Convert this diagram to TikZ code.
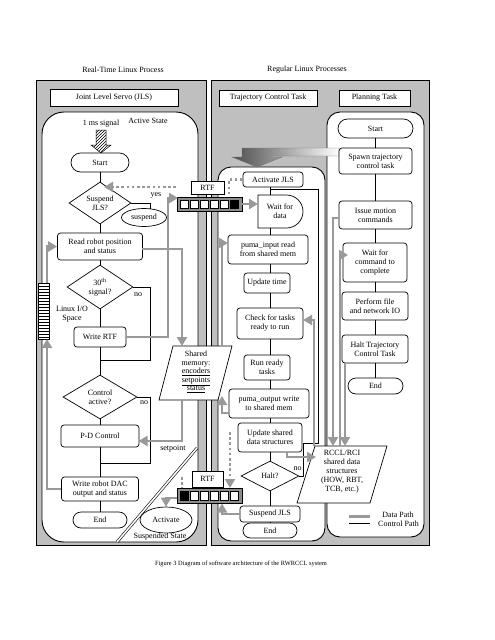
\documentclass[tikz,border=0pt]{standalone}
\usepackage{fontspec}
\setmainfont{Liberation Serif}
\usetikzlibrary{arrows.meta,shapes.geometric,shapes.misc,patterns}
\definecolor{pg}{gray}{0.75}
\definecolor{dg}{gray}{0.60}
\definecolor{qg}{gray}{0.55}
\begin{document}
\begin{tikzpicture}[x=1pt,y=-1pt,
  every node/.style={font=\fontsize{8}{9}\selectfont, inner sep=0pt, align=center},
  box/.style={draw, fill=white, rounded corners=3pt, line width=0.7pt},
  sbox/.style={draw, fill=white, line width=0.7pt},
  term/.style={draw, fill=white, rounded rectangle, line width=0.7pt},
  dia/.style={draw, fill=white, diamond, line width=0.7pt},
  ell/.style={draw, fill=white, ellipse, line width=0.7pt},
  ctl/.style={line width=0.7pt},
  dat/.style={draw=dg, line width=2.8pt, -{Triangle[length=9pt,width=10pt]}},
  datn/.style={draw=dg, line width=2.8pt},
  dot/.style={draw=dg, line width=2.6pt, dash pattern=on 2.6pt off 2.6pt},
  panel/.style={draw, line width=0.9pt, fill=pg},
  region/.style={draw, line width=0.9pt, fill=white},
  qcell/.style={draw, fill=white, line width=0.5pt},
]
\useasboundingbox (0,0) rectangle (495,640);

% titles
\node (t1) at (123,70) {Real-Time Linux Process};
\node (t2) at (307,70) {Regular Linux Processes};

% panels and regions
\draw[panel] (36,80) rectangle (206,545);
\draw[panel] (211,80) rectangle (429,545);
\draw[region, rounded corners=22pt] (42,112) rectangle (198,542);
\draw[region, rounded corners=13pt] (218,167) rectangle (325,541);
\draw[region, rounded corners=13pt] (327,112) rectangle (424,537);
\draw[double, double distance=1.6pt, line width=0.6pt] (117,542) -- (197,448);

% header boxes
\node[sbox, minimum width=128pt, minimum height=17pt] (jls) at (114,97.5) {Joint Level Servo (JLS)};
\node[sbox, minimum width=98pt, minimum height=16pt] (tct) at (268,98) {Trajectory Control Task};
\node[sbox, minimum width=71pt, minimum height=16pt] (plt) at (374.5,98) {Planning Task};

% labels
\node (ms) at (101,124) {1 ms signal};
\node (as) at (148,121) {Active State};
\node (ss) at (160,537) {Suspended State};
\node (yes) at (156,195) {yes};
\node (no1) at (138,295) {no};
\node (lio) at (72,314.5) {Linux I/O\\Space};
\node (no2) at (144,403) {no};
\node (sp) at (173,449) {setpoint};
\node (no3) at (297.5,469) {no};

% hatched signal arrow
\draw[line width=0.5pt, pattern=north east lines] (96,130) -- (106,130) -- (106,145) -- (111,145) -- (101,153) -- (91,145) -- (96,145) -- cycle;

% left column
\node[term, minimum width=58pt, minimum height=19pt] (st) at (100,162.5) {Start};
\node[dia, minimum width=62pt, minimum height=42pt, shape aspect=1.48] (sus) at (100,203) {Suspend\\JLS?};
\node[ell, minimum width=45pt, minimum height=18pt] (susp) at (144,217.5) {suspend};
\node[box, minimum width=85pt, minimum height=27pt] (rd) at (100,246.5) {Read robot position\\and status};
\node[dia, minimum width=66pt, minimum height=44pt, shape aspect=1.5] (th) at (100,287) {30\textsuperscript{th}\\signal?};
\node[box, minimum width=52pt, minimum height=20pt] (wrtf) at (100,337) {Write RTF};
\node[dia, minimum width=74pt, minimum height=44pt, shape aspect=1.68] (ca) at (100,397) {Control\\active?};
\node[box, minimum width=78pt, minimum height=22pt] (pd) at (100,436) {P-D Control};
\node[box, minimum width=77pt, minimum height=24pt] (dac) at (100,489) {Write robot DAC\\output and status};
\node[term, minimum width=54pt, minimum height=16pt] (end1) at (100,520) {End};
\node[ell, minimum width=52pt, minimum height=26pt] (act) at (166,520) {Activate};

% Linux I/O bar
\draw[fill=white, line width=0.6pt] (38,283) rectangle (49,339);
\foreach \yy in {286,289,...,337} \draw[line width=0.5pt] (38,\yy) -- (49,\yy);
\coordinate (barT) at (47,283);
\coordinate (barB) at (47,339);

% RTF queues
\node[sbox, minimum width=33pt, minimum height=13pt] (rtf1) at (207.5,187.5) {RTF};
\node[draw, fill=qg, line width=0.7pt, minimum width=65pt, minimum height=14pt] (q1) at (209.5,204) {};
\foreach \i in {0,...,4} \draw[qcell] ({180.5+10*\i},200) rectangle ({188.5+10*\i},208.5);
\draw[qcell, fill=black] (230.5,200) rectangle (238.5,208.5);
\node[sbox, minimum width=31pt, minimum height=16pt] (rtf2) at (207.5,479) {RTF};
\node[draw, fill=qg, line width=0.7pt, minimum width=65pt, minimum height=15pt] (q2) at (209.5,495.5) {};
\draw[qcell, fill=black] (180.5,491.5) rectangle (188.5,500);
\foreach \i in {1,...,5} \draw[qcell] ({180.5+10*\i},491.5) rectangle ({188.5+10*\i},500);

% shared memory
\draw[fill=white, line width=0.7pt] (173,346) -- (232,346) -- (218,400) -- (159,400) -- cycle;
\node[font=\fontsize{8}{8.6}\selectfont] (shm) at (196,372) {Shared\\memory:\\\underline{encoders}\\\underline{setpoints}\\\underline{status}};
\coordinate (shmT) at (182,346);
\coordinate (shmB) at (182,400);

% big spawn arrow
\shadedraw[left color=black!70, right color=white, draw=black!55, line width=0.4pt] (339,148) -- (242,148) -- (242,157) -- (232,157) -- (257,167) -- (282,157) -- (272,157) -- (272,156) -- (339,156) -- cycle;

% middle column
\coordinate (mc) at (270,0);
\node[box, minimum width=60pt, minimum height=15pt] (ajls) at (273,179.5) {Activate JLS};
\draw[fill=white, line width=0.7pt] (258,195) -- (286.5,195) .. controls (295.6,195) and (303,202.4) .. (303,211.5) .. controls (303,220.6) and (295.6,228) .. (286.5,228) -- (258,228) -- cycle;
\node (wd) at (280,211.5) {Wait for\\data};
\coordinate (wT) at (270,195);
\coordinate (wB) at (270,228);
\coordinate (wW) at (258,204);
\node[box, minimum width=80pt, minimum height=29pt] (pin) at (268,249.5) {puma\_input read\\from shared mem};
\node[box, minimum width=46pt, minimum height=20pt] (ut) at (267,283) {Update time};
\node[box, minimum width=66pt, minimum height=31pt] (chk) at (270,323.5) {Check for tasks\\ready to run};
\node[box, minimum width=46pt, minimum height=25pt] (run) at (267,367.5) {Run ready\\tasks};
\node[box, minimum width=80pt, minimum height=29pt] (pout) at (269,403.5) {puma\_output write\\to shared mem};
\node[box, minimum width=64pt, minimum height=29pt] (usd) at (270,437.5) {Update shared\\data structures};
\node[dia, minimum width=58pt, minimum height=30pt, shape aspect=1.93] (halt) at (270,476) {Halt?};
\node[box, minimum width=60pt, minimum height=16pt] (sjls) at (270,514) {Suspend JLS};
\node[term, minimum width=54pt, minimum height=15pt] (end2) at (270,530.5) {End};

% planning column
\coordinate (pc) at (375,0);
\node[term, minimum width=75pt, minimum height=19pt] (pst) at (375.5,128.5) {Start};
\node[box, minimum width=73pt, minimum height=26pt] (spn) at (375.5,161) {Spawn trajectory\\control task};
\node[box, minimum width=73pt, minimum height=28pt] (iss) at (375.5,215) {Issue motion\\commands};
\node[box, minimum width=64pt, minimum height=39pt] (wcc) at (375,262.5) {Wait for\\command to\\complete};
\node[box, minimum width=66pt, minimum height=28pt] (pf) at (375,306) {Perform file\\and network IO};
\node[box, minimum width=66pt, minimum height=28pt] (htc) at (375,349) {Halt Trajectory\\Control Task};
\node[term, minimum width=55pt, minimum height=16pt] (pend) at (375.5,386) {End};

% RCCL shared structures
\draw[fill=white, line width=0.7pt] (315,446) -- (387,446) -- (370,503) -- (297,503) -- cycle;
\node (rccl) at (342,472) {RCCL/RCI\\shared data\\structures\\(HOW, RBT,\\TCB, etc.)};

% legend
\draw[datn] (349,516.5) -- (370,516.5);
\draw[ctl] (349,523) -- (370,523);
\node (ldp) at (398,514.5) {Data Path};
\node (lcp) at (398.5,523.5) {Control Path};

% caption
\node[font=\fontsize{6.4}{7}\selectfont] (cap) at (241,564) {Figure 3 Diagram of software architecture of the RWRCCL system};

% ---- control paths (left)
\coordinate (yd) at (150,209);
\coordinate (n1) at (150,360);
\coordinate (j1) at (100,360);
\coordinate (n2) at (150,463);
\coordinate (j2) at (100,463);
\draw[ctl] (st.south) -- (sus.north);
\draw[ctl] (sus.east) -| (yd);
\draw[ctl] (sus.south) -- (rd.north);
\draw[ctl] (rd.south) -- (th.north);
\draw[ctl] (th.south) -- (wrtf.north);
\draw[ctl] (th.east) -| (n1) -- (j1);
\draw[ctl] (wrtf.south) -- (ca.north);
\draw[ctl] (ca.south) -- (pd.north);
\draw[ctl] (ca.east) -| (n2) -- (j2);
\draw[ctl] (pd.south) -- (dac.north);
\draw[ctl] (dac.south) -- (end1.north);

% ---- control paths (middle)
\draw[ctl] (ajls.south -| wT) -- (wT);
\draw[ctl] (wB) -- (mc |- pin.north);
\draw[ctl] (mc |- pin.south) -- (mc |- ut.north);
\draw[ctl] (mc |- ut.south) -- (mc |- chk.north);
\draw[ctl] (mc |- chk.south) -- (mc |- run.north);
\draw[ctl] (mc |- run.south) -- (mc |- pout.north);
\draw[ctl] (mc |- pout.south) -- (mc |- usd.north);
\draw[ctl] (usd.south) -- (halt.north);
\draw[ctl] (halt.south) -- (sjls.north);
\draw[ctl] (sjls.south) -- (end2.north);
\coordinate (l1) at (303,476);
\coordinate (l2) at (303,443);
\coordinate (l3) at (318,443);
\coordinate (l4) at (318,189);
\coordinate (l5) at (270,189);
\draw[ctl] (halt.east) -- (l1) -- (l2) -- (l3) -- (l4) -- (l5);

% ---- control paths (planning)
\draw[ctl] (pc |- pst.south) -- (pc |- spn.north);
\draw[ctl] (pc |- spn.south) -- (pc |- iss.north);
\draw[ctl] (pc |- iss.south) -- (pc |- wcc.north);
\draw[ctl] (pc |- wcc.south) -- (pc |- pf.north);
\draw[ctl] (pc |- pf.south) -- (pc |- htc.north);
\draw[ctl] (pc |- htc.south) -- (pc |- pend.north);

% ---- data paths
\coordinate (rdE) at (142,249);
\draw[dat] (rdE) -| (shmT);
\coordinate (qa) at (168,198);
\coordinate (qb) at (178,198);
\draw[dat] (wrtf.east) -| (qa) -- (qb);
\draw[dat] (q1.east) -- (wW);
\coordinate (d1) at (176,187);
\coordinate (d2) at (104,187);
\draw[dot, -{Triangle[length=9pt,width=10pt]}] (d1) -- (d2);
\coordinate (d3) at (229,194);
\draw[dot] (ajls.west) -| (d3);
\coordinate (pdin) at (138.5,441);
\draw[dat] (shmB) |- (pdin);
\draw[dat] (dac.west) -| (barB);
\draw[dat] (barT) |- (rd.west);
\coordinate (q2in) at (222,503.5);
\draw[dat] (sjls.west) -| (q2in);
\coordinate (q2o) at (177,498);
\draw[dat] (q2o) -| (act.north);
\coordinate (d4) at (182,477);
\coordinate (d5) at (182,488);
\draw[dot] (d4) -- (d5);
\coordinate (d6) at (230,432);
\coordinate (d7) at (230,488);
\draw[dot, -{Triangle[length=9pt,width=10pt]}] (d6) -- (d7);
\coordinate (smR) at (222,346);
\coordinate (pinW) at (228,243);
\draw[dat] (smR) |- (pinW);
\coordinate (poW) at (229,413);
\coordinate (smRB) at (222,396);
\draw[dat] (poW) -| (smRB);
\coordinate (rc1) at (314,446);
\coordinate (chkE) at (303,320);
\draw[dat] (rc1) |- (chkE);
\coordinate (usdB) at (287,452);
\coordinate (rcL) at (316,457);
\draw[dat] (usdB) |- (rcL);
\coordinate (issW) at (339,218);
\coordinate (rc2) at (333,446);
\draw[dat] (issW) -| (rc2);
\coordinate (rc3) at (340,446);
\coordinate (wccW) at (348,255);
\draw[dat] (rc3) |- (wccW);
\coordinate (htcB) at (345,363);
\coordinate (rc4) at (345,446);
\draw[dat] (htcB) -- (rc4);
\end{tikzpicture}
\end{document}
